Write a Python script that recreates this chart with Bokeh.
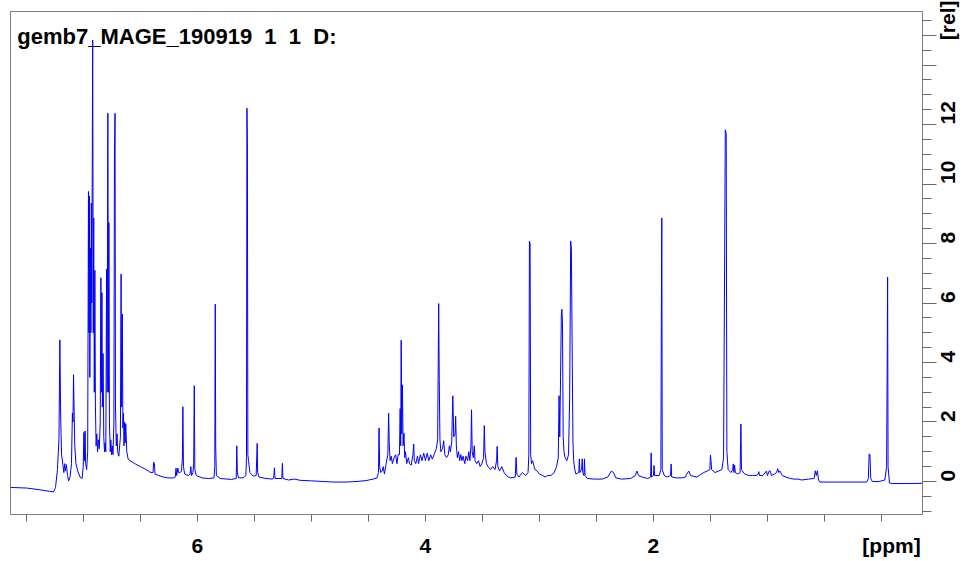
import math
from bokeh.plotting import figure
from bokeh.models import Range1d, FixedTicker, CustomJSTickFormatter, Label
from bokeh.embed import file_html
from bokeh.resources import INLINE

# ---------------- data ----------------
title_text = "gemb7_MAGE_190919\u00a0 1\u00a0 1\u00a0 D:"
x_unit_label = "[ppm]"
y_unit_label = "[rel]"

x_tick_marks = [0.0, 0.5, 1.0, 1.5, 2.0, 2.5, 3.0, 3.5, 4.0, 4.5, 5.0, 5.5, 6.0, 6.5, 7.0, 7.5]
x_tick_labels = {"6.000": "6", "4.000": "4", "2.000": "2", "-0.088": x_unit_label}
y_ticks = [0, 2, 4, 6, 8, 10, 12, 14, 15]
y_tick_labels = {"0": "0", "2": "2", "4": "4", "6": "6", "8": "8", "10": "10", "12": "12",
                 "15": y_unit_label}
y_minor_ticks = [-1.0, -0.5, 0.5, 1.0, 1.5, 2.5, 3.0, 3.5, 4.5, 5.0, 5.5, 6.5, 7.0, 7.5,
                 8.5, 9.0, 9.5, 10.5, 11.0, 11.5, 12.5, 13.0, 13.5, 14.5, 15.5]

# spectrum trace, (chemical shift ppm, relative intensity), high ppm -> low ppm
aromatic = [
    (7.640, -0.20), (7.500, -0.22), (7.380, -0.28), (7.300, -0.33), (7.262, -0.35), (7.245, -0.20),
    (7.228, 0.4), (7.215, 1.4), (7.207, 4.76), (7.200, 2.2), (7.192, 0.9), (7.180, 0.55), (7.172, 0.3),
    (7.165, 0.6), (7.158, 0.35), (7.150, 0.57), (7.140, 0.2), (7.130, 0.02), (7.118, 0.15), (7.105, 0.6),
    (7.097, 2.3), (7.092, 2.0), (7.087, 3.59), (7.082, 2.4), (7.076, 1.2), (7.066, 0.6), (7.050, 0.35),
    (7.030, 0.15), (7.012, 0.1), (7.002, 0.5), (6.996, 1.65), (6.991, 0.7), (6.986, 1.7), (6.981, 0.6),
    (6.972, 0.4), (6.963, 1.0), (6.956, 9.75), (6.952, 5.0), (6.948, 9.6), (6.944, 3.5), (6.939, 7.85),
    (6.935, 5.0), (6.931, 9.36), (6.927, 6.0), (6.919, 14.84), (6.914, 5.0), (6.910, 8.86), (6.905, 3.0),
    (6.900, 7.1), (6.895, 2.5), (6.889, 1.2), (6.883, 1.6), (6.876, 1.0), (6.869, 1.4), (6.861, 1.1),
    (6.853, 2.0), (6.847, 6.85), (6.843, 3.0), (6.838, 6.35), (6.834, 2.5), (6.828, 4.3), (6.822, 1.5),
    (6.815, 1.0), (6.810, 1.3), (6.804, 1.0), (6.797, 7.14), (6.792, 3.0), (6.786, 12.38), (6.781, 3.0),
    (6.777, 8.7), (6.772, 2.0), (6.765, 1.0), (6.760, 1.4), (6.754, 0.9), (6.748, 1.2), (6.741, 0.9),
    (6.733, 2.0), (6.728, 11.0), (6.723, 12.38), (6.719, 2.5), (6.712, 1.2), (6.705, 1.6), (6.700, 1.0),
    (6.690, 0.85), (6.676, 1.5), (6.670, 6.97), (6.665, 2.5), (6.659, 5.63), (6.654, 1.8), (6.649, 2.3),
    (6.644, 1.2), (6.639, 2.0), (6.634, 1.3), (6.629, 1.94), (6.620, 1.0), (6.608, 0.75), (6.590, 0.7),
    (6.550, 0.6), (6.500, 0.5), (6.450, 0.4), (6.410, 0.3), (6.390, 0.3), (6.384, 0.65), (6.378, 0.6),
    (6.372, 0.25), (6.340, 0.2), (6.300, 0.15),
]
olefinic = [
    (6.260, 0.12), (6.210, 0.12), (6.195, 0.15), (6.188, 0.45), (6.182, 0.2), (6.172, 0.45), (6.165, 0.3),
    (6.152, 0.3), (6.140, 0.35), (6.132, 0.8), (6.128, 2.51), (6.123, 0.5), (6.112, 0.25), (6.080, 0.2),
    (6.065, 0.25), (6.058, 0.5), (6.052, 0.2), (6.040, 0.3), (6.033, 0.6), (6.028, 3.22), (6.023, 0.4),
    (6.010, 0.2), (5.960, 0.12), (5.900, 0.1), (5.855, 0.12), (5.848, 0.5), (5.844, 5.96), (5.840, 1.2),
    (5.834, 0.2), (5.800, 0.1), (5.740, 0.08), (5.700, 0.07), (5.660, 0.1), (5.655, 1.2), (5.650, 0.3),
    (5.640, 0.12), (5.600, 0.12), (5.575, 0.2), (5.570, 0.8), (5.566, 12.55), (5.562, 11.4), (5.558, 0.9),
    (5.552, 0.7), (5.540, 0.3), (5.510, 0.18), (5.485, 0.2), (5.480, 0.8), (5.476, 1.28), (5.472, 0.3),
    (5.460, 0.15), (5.400, 0.1), (5.340, 0.08), (5.330, 0.15), (5.325, 0.46), (5.320, 0.1), (5.260, 0.1),
    (5.255, 0.61), (5.250, 0.1), (5.200, 0.05), (5.150, 0.08), (5.100, 0.04), (5.000, 0.02), (4.900, 0.0),
    (4.800, -0.02), (4.700, -0.02), (4.600, 0.0), (4.520, 0.03), (4.460, 0.08),
]
midfield = [
    (4.425, 0.12), (4.412, 0.3), (4.407, 1.8), (4.402, 0.5), (4.392, 0.3), (4.380, 0.35), (4.370, 0.5),
    (4.360, 0.25), (4.345, 0.6), (4.330, 0.9), (4.323, 2.3), (4.318, 1.3), (4.310, 0.7), (4.300, 0.85),
    (4.290, 0.6), (4.275, 0.8), (4.262, 0.9), (4.250, 0.6), (4.240, 0.9), (4.228, 0.9), (4.222, 2.45),
    (4.217, 1.2), (4.213, 4.75), (4.208, 1.6), (4.202, 3.25), (4.196, 1.2), (4.188, 1.62), (4.182, 0.8),
    (4.175, 1.0), (4.165, 0.6), (4.150, 0.8), (4.140, 0.6), (4.125, 0.55), (4.110, 0.9), (4.103, 1.26),
    (4.098, 0.7), (4.085, 0.6), (4.070, 0.85), (4.060, 0.6), (4.045, 0.9), (4.030, 0.7), (4.015, 0.95),
    (4.000, 0.7), (3.985, 0.95), (3.970, 0.7), (3.955, 0.9), (3.940, 0.75), (3.920, 0.95), (3.905, 1.1),
    (3.893, 1.4), (3.889, 3.5), (3.884, 5.98), (3.879, 3.4), (3.873, 1.4), (3.865, 1.0), (3.850, 1.1),
    (3.840, 1.37), (3.830, 0.9), (3.815, 0.8), (3.800, 0.9), (3.790, 1.2), (3.782, 1.0), (3.770, 1.3),
    (3.760, 2.88), (3.752, 1.5), (3.740, 1.6), (3.735, 2.19), (3.729, 1.2), (3.720, 0.8), (3.710, 1.0),
    (3.700, 0.7), (3.690, 0.9), (3.680, 0.7), (3.670, 0.85), (3.655, 0.6), (3.645, 0.85), (3.630, 0.7),
    (3.620, 1.0), (3.610, 0.7), (3.601, 1.2), (3.596, 2.41), (3.590, 1.0), (3.580, 0.8), (3.572, 1.2),
    (3.565, 0.7), (3.550, 0.6), (3.535, 0.7), (3.520, 0.5), (3.505, 0.6), (3.490, 0.8), (3.484, 1.88),
    (3.478, 1.0), (3.465, 0.6), (3.450, 0.5), (3.430, 0.4), (3.410, 0.5), (3.390, 0.4), (3.376, 0.7),
    (3.371, 1.18), (3.365, 0.5), (3.350, 0.35), (3.330, 0.5), (3.310, 0.3), (3.290, 0.2), (3.270, 0.15),
    (3.250, 0.12), (3.212, 0.15), (3.205, 0.81), (3.198, 0.25), (3.180, 0.15), (3.150, 0.3), (3.120, 0.2),
    (3.100, 0.3), (3.093, 0.9), (3.088, 8.08), (3.082, 8.0), (3.077, 0.9), (3.070, 0.6), (3.060, 0.7),
    (3.040, 0.4), (3.020, 0.35), (3.000, 0.25), (2.970, 0.2), (2.950, 0.15), (2.930, 0.2),
]
aliphatic = [
    (2.900, 0.2), (2.870, 0.3), (2.850, 0.5), (2.835, 0.8), (2.828, 2.88), (2.822, 1.5), (2.815, 3.5),
    (2.808, 5.6), (2.803, 5.79), (2.798, 5.3), (2.792, 1.5), (2.785, 1.0), (2.775, 0.8), (2.760, 0.7),
    (2.745, 0.9), (2.735, 2.8), (2.726, 8.08), (2.720, 7.8), (2.712, 3.94), (2.706, 1.3), (2.700, 0.7),
    (2.690, 0.4), (2.680, 0.25), (2.655, 0.3), (2.650, 0.76), (2.645, 0.3), (2.630, 0.4), (2.625, 0.76),
    (2.620, 0.3), (2.610, 0.2), (2.605, 0.76), (2.600, 0.2), (2.580, 0.1), (2.520, 0.08), (2.450, 0.08),
    (2.400, 0.15), (2.370, 0.35), (2.350, 0.3), (2.330, 0.12), (2.280, 0.08), (2.200, 0.1), (2.160, 0.2),
    (2.145, 0.35), (2.130, 0.2), (2.100, 0.15), (2.050, 0.1), (2.025, 0.15), (2.020, 0.96), (2.016, 0.15),
    (2.000, 0.2), (1.995, 0.54), (1.990, 0.2), (1.950, 0.2), (1.935, 0.4), (1.931, 5.34), (1.927, 8.86),
    (1.923, 0.4), (1.905, 0.2), (1.880, 0.15), (1.850, 0.2), (1.845, 0.59), (1.840, 0.15), (1.800, 0.12),
    (1.750, 0.12), (1.720, 0.15), (1.700, 0.3), (1.690, 0.35), (1.675, 0.2), (1.620, 0.15), (1.560, 0.3),
    (1.530, 0.35), (1.505, 0.4), (1.500, 0.89), (1.495, 0.7), (1.490, 0.4), (1.460, 0.3), (1.400, 0.4),
    (1.385, 0.8), (1.376, 7.24), (1.370, 11.82), (1.362, 11.7), (1.356, 1.0), (1.345, 0.4), (1.320, 0.3),
    (1.305, 0.4), (1.300, 0.59), (1.294, 0.3), (1.288, 0.55), (1.282, 0.3), (1.260, 0.25), (1.240, 0.3),
    (1.233, 1.93), (1.228, 0.4), (1.200, 0.25), (1.160, 0.2), (1.130, 0.2), (1.100, 0.2), (1.080, 0.25),
    (1.076, 0.33), (1.070, 0.2), (1.040, 0.2), (1.009, 0.35), (1.000, 0.2), (0.985, 0.35), (0.975, 0.35),
    (0.965, 0.2), (0.940, 0.25), (0.920, 0.3), (0.910, 0.43), (0.900, 0.3), (0.890, 0.35), (0.870, 0.2),
    (0.840, 0.15), (0.800, 0.1), (0.770, 0.08), (0.730, 0.08), (0.700, 0.05), (0.640, 0.08), (0.590, 0.1),
    (0.580, 0.36), (0.572, 0.2), (0.562, 0.36), (0.552, 0.05), (0.540, -0.02), (0.400, -0.02),
    (0.250, -0.02), (0.130, -0.02), (0.115, 0.1), (0.108, 0.93), (0.101, 0.9), (0.094, 0.1), (0.080, 0.0),
    (0.020, 0.0), (-0.030, 0.05), (-0.045, 0.5), (-0.050, 3.79), (-0.054, 6.87), (-0.058, 0.5),
    (-0.070, -0.05), (-0.100, -0.07), (-0.250, -0.07), (-0.360, -0.06),
]

# ---------------- figure ----------------
trace = aromatic + olefinic + midfield + aliphatic
shift_ppm = [pt[0] for pt in trace]
intensity = [pt[1] for pt in trace]

FONT = "Liberation Sans"
TICK_COLOR = "#6a6a6a"

p = figure(
    frame_width=912, frame_height=503,
    x_range=Range1d(7.64, -0.36), y_range=Range1d(-1.11, 15.8),
    output_backend="svg", toolbar_location=None,
    y_axis_location="right",
    min_border_left=10, min_border_top=11, min_border_right=40, min_border_bottom=45,
    background_fill_color="white", border_fill_color="white",
)
p.grid.visible = False
p.outline_line_color = "#7f7f7f"
p.outline_line_width = 1

p.line(shift_ppm, intensity, line_color="#0000FF", line_width=1)

# x axis: tick marks drawn as (unlabelled) minor ticks, labels on invisible major ticks
label_positions = [float(k) for k in x_tick_labels]
xa = p.xaxis[0]
xa.ticker = FixedTicker(ticks=label_positions, minor_ticks=x_tick_marks)
xa.formatter = CustomJSTickFormatter(
    args=dict(labels=x_tick_labels),
    code="const k = tick.toFixed(3); return (k in labels) ? labels[k] : '';")
xa.axis_line_color = None
xa.major_tick_line_color = None
xa.major_tick_out = 0
xa.major_tick_in = 0
xa.minor_tick_line_color = TICK_COLOR
xa.minor_tick_out = 7
xa.minor_tick_in = 0
xa.major_label_text_font = FONT
xa.major_label_text_font_style = "bold"
xa.major_label_text_font_size = "21px"
xa.major_label_text_color = "black"
xa.major_label_standoff = 12

# y axis (right)
ya = p.yaxis[0]
ya.ticker = FixedTicker(ticks=y_ticks, minor_ticks=y_minor_ticks)
ya.formatter = CustomJSTickFormatter(
    args=dict(labels=y_tick_labels),
    code="const k = String(Math.round(tick)); return (k in labels) ? labels[k] : '';")
ya.axis_line_color = None
ya.major_tick_line_color = TICK_COLOR
ya.minor_tick_line_color = TICK_COLOR
ya.major_tick_out = 14
ya.major_tick_in = 0
ya.minor_tick_out = 9
ya.minor_tick_in = 0
ya.major_label_orientation = math.pi / 2
ya.major_label_text_font = FONT
ya.major_label_text_font_style = "bold"
ya.major_label_text_font_size = "21px"
ya.major_label_text_color = "black"
ya.major_label_standoff = 11

# title text inside the frame
p.add_layout(Label(x=7.58, y=14.95, text=title_text, text_font=FONT, text_font_style="bold",
                   text_font_size="22px", text_color="black", text_baseline="alphabetic",
                   text_align="left"))

open("out.html", "w").write(file_html(p, INLINE))
